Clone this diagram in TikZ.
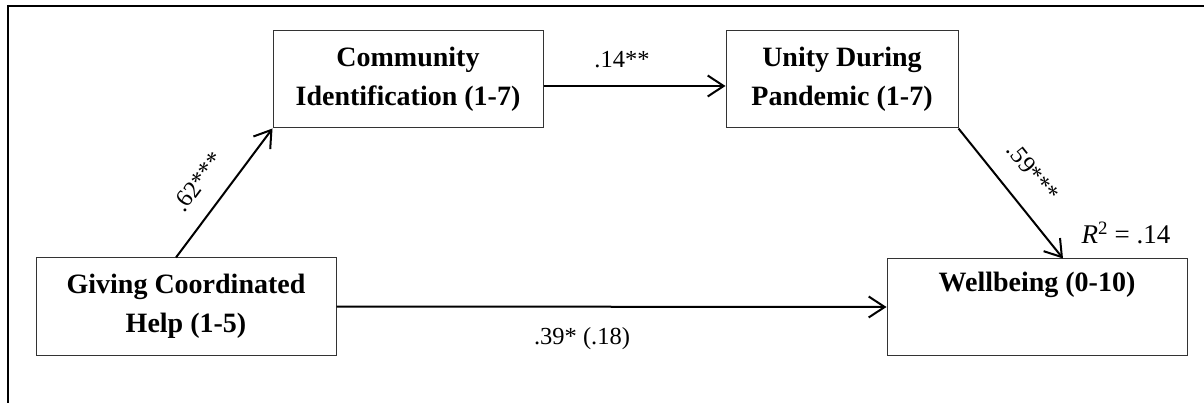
\documentclass[tikz,border=0pt]{standalone}
\usepackage{fontspec}
\setmainfont{Liberation Serif}
\usetikzlibrary{arrows.meta}
\begin{document}
\begin{tikzpicture}[x=1pt,y=-1pt,
  varbox/.style={draw=black!80, line width=1pt, rectangle, inner sep=0pt, align=center,
    font=\fontsize{28}{38.5}\selectfont\bfseries},
  arr/.style={line width=2pt, -{Straight Barb[length=16pt,width=21pt]}},
  coef/.style={font=\fontsize{24.5}{28}\selectfont, inner sep=0pt}]
\useasboundingbox (0,0) rectangle (1204,403);
% outer frame (top and left edges)
\draw[line width=2pt] (7,6) -- (1204,6);
\draw[line width=1.2pt] (8,5) -- (8,403);
% boxes
\node[varbox, minimum width=270pt, minimum height=97pt] (comm) at (408,79.5) {Community\\Identification (1-7)};
\node[varbox, minimum width=232pt, minimum height=97pt] (unity) at (842,79.5) {Unity During\\Pandemic (1-7)};
\node[varbox, minimum width=300pt, minimum height=97pt] (give) at (186,306.5) {Giving Coordinated\\Help (1-5)};
\node[varbox, minimum width=300pt, minimum height=96pt] (well) at (1037,307) {Wellbeing (0-10)\\\strut};
% connectors
\draw[arr] ([xshift=-10pt]give.north) -- (comm.south west);
\draw[arr] (comm.east |- 0,86) -- (unity.west |- 0,86);
\draw[arr] (unity.south east) -- ([xshift=26pt]well.north);
\draw[arr] (give.east) -- (well.west);
% coefficients
\node[coef] (c14) at (622,60) {.14**};
\node[coef, rotate=53.5] (c62) at (198,182) {.62***};
\node[coef, rotate=-51.3] (c59) at (1033,172) {.59***};
\node[coef] (c39) at (582,339) {.39* (.18)};
\node[coef, font=\fontsize{27}{30}\selectfont] (r2) at (1126,233) {\textit{R}\textsuperscript{2} = .14};
\end{tikzpicture}
\end{document}
